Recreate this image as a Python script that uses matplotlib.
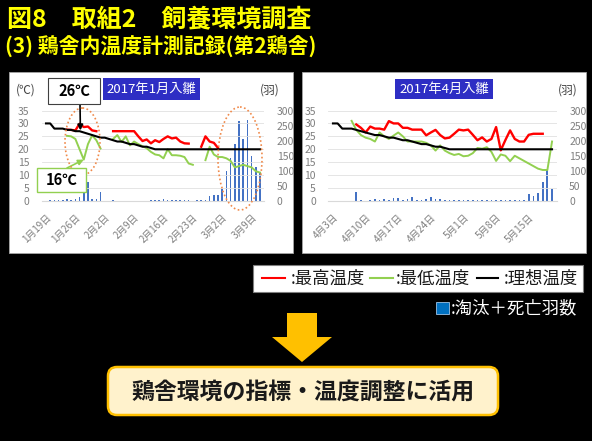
import numpy as np
import matplotlib.pyplot as plt
from matplotlib.patches import Rectangle, Ellipse, FancyBboxPatch, Polygon

plt.rcParams['font.family'] = ['Noto Sans CJK JP', 'DejaVu Sans']

nan = np.nan

# ---- 2017年1月入雛 (1/19 - 3/11) ----
jan_ticklabels = ["1月19日", "1月26日", "2月2日", "2月9日", "2月16日", "2月23日", "3月2日", "3月9日"]
jan_max = [nan, nan, nan, nan, nan, 27.6, 27.5, 27.3, 29.9, 28.6,
           28.8, 27.3, 27.0, nan, nan, nan, 27.0, 27.0, 27.0, 27.0,
           27.0, 27.0, 25.0, 23.2, 23.8, 22.3, 23.5, 22.8, 24.0, 25.0,
           24.2, 24.5, 23.0, 22.3, 22.2, nan, nan, 21.0, 25.0, 23.0,
           22.5, 20.5, nan, nan, nan, nan, nan, nan, nan, nan,
           nan, nan]
jan_min = [nan, nan, nan, nan, nan, 25.2, 25.0, 24.0, 20.0, 16.0,
           22.0, 25.4, 23.5, 20.3, nan, nan, 24.0, 25.5, 22.8, 25.0,
           21.5, 23.0, 22.0, 21.2, 20.4, 19.0, 18.0, 17.7, 16.5, 20.0,
           17.7, 17.7, 17.5, 17.0, 14.5, 14.0, nan, nan, 15.8, 21.0,
           18.0, 17.0, 17.0, 16.5, 15.5, 13.0, 13.5, 14.0, 13.5, 13.0,
           11.5, 11.0]
jan_ideal = [30, 30, 28, 28, 28, 27.5, 27.5, 27, 27, 26.5,
             26, 25.5, 25, 24.5, 24.5, 24, 23.5, 23, 23, 22.5,
             22, 22, 21.5, 21, 21, 20.5, 20, 20, 20, 20,
             20, 20, 20, 20, 20, 20, 20, 20, 20, 20,
             20, 20, 20, 20, 20, 20, 20, 20, 20, 20,
             20, 20]
jan_culled = [0, 4, 3, 4, 3, 8, 3, 5, 14, 40,
              64, 6, 6, 31, 0, 0, 2, 0, 0, 1,
              0, 0, 1, 0, 0, 2, 4, 3, 5, 3,
              3, 3, 3, 2, 4, 0, 2, 2, 3, 15,
              20, 20, 40, 98, 143, 190, 265, 207, 270, 150,
              113, 97]

# ---- 2017年4月入雛 (4/3 - 5/20) ----
apr_ticklabels = ["4月3日", "4月10日", "4月17日", "4月24日", "5月1日", "5月8日", "5月15日"]
apr_max = [nan, nan, nan, nan, nan, 29.6, 28.3, 26.5, 28.8, 28.0,
           28.0, 27.6, 30.9, 30.0, 30.0, 28.3, 28.3, 27.6, 27.6, 27.6,
           25.4, 26.5, 27.5, 25.5, 24.2, 24.5, 26.0, 27.6, 27.3, 27.6,
           25.6, 23.5, 24.6, 23.0, 24.0, 28.6, 19.6, 23.6, 27.3, 24.0,
           23.0, 23.0, 25.6, 26.0, 26.0, 26.0, nan, nan]
apr_min = [nan, nan, nan, nan, 31.0, 27.5, 25.5, 24.5, 24.0, 23.0,
           26.5, 25.0, 24.0, 25.3, 26.5, 25.0, 23.0, 23.0, 23.0, 23.0,
           22.5, 21.5, 19.5, 21.5, 19.5, 18.5, 17.8, 18.2, 17.3, 17.5,
           18.5, 20.5, 20.2, 20.8, 19.0, 15.5, 18.0, 17.5, 15.4, 17.5,
           16.5, 15.5, 14.5, 13.5, 12.5, 12.0, 12.0, 23.0]
apr_ideal = [30, 30, 28, 28, 28, 27.5, 27, 26.5, 26, 25.5,
             25.5, 25, 24.5, 24.5, 24, 23.5, 23.5, 23, 22.5, 22,
             22, 21.5, 21, 21, 20.5, 20, 20, 20, 20, 20,
             20, 20, 20, 20, 20, 20, 20, 20, 20, 20,
             20, 20, 20, 20, 20, 20, 20, 20]
apr_culled = [0, 0, 0, 0, 0, 31, 2, 0, 3, 5,
              3, 8, 4, 10, 10, 2, 8, 12, 3, 2,
              6, 12, 8, 6, 4, 3, 2, 2, 2, 3,
              2, 2, 4, 2, 2, 3, 2, 2, 2, 2,
              3, 2, 22, 18, 25, 64, 102, 39]

W, H = 592, 441
fig = plt.figure(figsize=(W / 100, H / 100), dpi=100, facecolor='black')

# background / foreground layers in pixel coordinates
bg = fig.add_axes([0, 0, 1, 1], zorder=-5)
fg = fig.add_axes([0, 0, 1, 1], zorder=10)
for a in (bg, fg):
    a.set_xlim(0, W)
    a.set_ylim(H, 0)
    a.axis('off')
bg.add_patch(Rectangle((0, 0), W, H, fc='black', ec='none'))
fg.patch.set_visible(False)

# white panels
bg.add_patch(Rectangle((9, 72), 284, 181, fc='white', ec='#a6a6a6', lw=0.6))
bg.add_patch(Rectangle((302, 72), 284, 181, fc='white', ec='#a6a6a6', lw=0.6))

# titles
fg.text(7, 19, "図8　取組2　飼養環境調査", color='#ffff00', fontsize=18,
        fontweight='bold', ha='left', va='center')
fg.text(5, 47, "(3) 鶏舎内温度計測記録(第2鶏舎)", color='#ffff00', fontsize=15,
        fontweight='bold', ha='left', va='center')


def chart(x0, x1, xlim, tmax, tmin, tideal, culled, labels):
    ax = fig.add_axes([x0 / W, 1 - 201 / H, (x1 - x0) / W, 90.5 / H])
    axb = ax.twinx()
    ax.set_zorder(axb.get_zorder() + 1)
    ax.patch.set_visible(False)
    days = np.arange(len(tideal))
    axb.bar(days, culled, width=0.38, color='#4472c4')
    ax.plot(days, tmax, color='#ff0000', lw=1.7)
    ax.plot(days, tmin, color='#92d050', lw=1.4)
    ax.plot(days, tideal, color='black', lw=1.5)
    ax.set_xlim(*xlim)
    ax.set_ylim(0, 35)
    axb.set_ylim(0, 300)
    ax.set_yticks(range(0, 36, 5))
    axb.set_yticks(range(0, 301, 50))
    ax.grid(axis='y', color='#e0e0e0', lw=0.6)
    ax.set_xticks(range(0, 7 * len(labels), 7))
    ax.set_xticklabels(labels, rotation=45, ha='right', va='top',
                       rotation_mode='anchor')
    ax.tick_params(axis='x', length=0, pad=8, labelsize=7, labelcolor='#7f7f7f')
    ax.tick_params(axis='y', length=0, pad=9, labelsize=7.5, labelcolor='#7f7f7f')
    axb.tick_params(axis='y', length=0, pad=9, labelsize=7.5, labelcolor='#7f7f7f')
    for a in (ax, axb):
        for s in a.spines.values():
            s.set_visible(False)
    ax.spines['bottom'].set_visible(True)
    ax.spines['bottom'].set_color('#d9d9d9')
    return ax


ax1 = chart(41.8, 264.2, (-1, 52), jan_max, jan_min, jan_ideal, jan_culled, jan_ticklabels)
ax2 = chart(328.3, 556.7, (-1, 48), apr_max, apr_min, apr_ideal, apr_culled, apr_ticklabels)

# units and period boxes
fg.text(26, 90, "(℃)", color='#404040', fontsize=8.5, ha='center', va='center')
fg.text(270, 90, "(羽)", color='#404040', fontsize=8.5, ha='center', va='center')
fg.text(568, 90, "(羽)", color='#404040', fontsize=8.5, ha='center', va='center')
fg.add_patch(Rectangle((103, 78), 97, 22, fc='#2e2ec4', ec='none'))
fg.text(151.5, 89, "2017年1月入雛", color='white', fontsize=9.5, ha='center', va='center')
fg.add_patch(Rectangle((395, 79), 98, 20, fc='#2e2ec4', ec='none'))
fg.text(444, 89, "2017年4月入雛", color='white', fontsize=9.5, ha='center', va='center')

# highlight ellipses
fg.add_patch(Ellipse((82.5, 141.5), 35, 67, fill=False, ec='#f08a4b', lw=1.2, ls=(0, (1, 1.5))))
fg.add_patch(Ellipse((240, 158.5), 44, 103, fill=False, ec='#f08a4b', lw=1.2, ls=(0, (1, 1.5))))

# 26℃ / 16℃ callouts
fg.add_patch(Rectangle((48, 78), 52, 26, fc='white', ec='#404040', lw=0.8))
fg.text(74, 91, "26℃", color='black', fontsize=10.5, fontweight='bold', ha='center', va='center')
ax1.annotate("", xy=(8.2, 27.3), xytext=(80, 104), textcoords=fg.transData,
             arrowprops=dict(arrowstyle='-|>', color='black', lw=1.2, mutation_scale=8,
                             shrinkA=0, shrinkB=0))
fg.add_patch(Rectangle((37, 168), 49, 24, fc='white', ec='#92d050', lw=1.0))
fg.text(61.5, 180, "16℃", color='black', fontsize=10.5, fontweight='bold', ha='center', va='center')
ax1.annotate("", xy=(9, jan_min[9]), xytext=(67, 168), textcoords=fg.transData,
             arrowprops=dict(arrowstyle='-|>', color='#92d050', lw=1.2, mutation_scale=8,
                             shrinkA=0, shrinkB=0))

# legend box
fg.add_patch(Rectangle((253, 265), 330, 27, fc='white', ec='#7f7f7f', lw=0.8))
for xa, xb, col, lab, xt in [(262, 285, '#ff0000', ":最高温度", 291),
                             (370, 393, '#92d050', ":最低温度", 396),
                             (477, 498, 'black', ":理想温度", 504)]:
    fg.plot([xa, xb], [278, 278], color=col, lw=1.5)
    fg.text(xt, 279, lab, color='#1a1a1a', fontsize=12.5, ha='left', va='center')

fg.add_patch(Rectangle((436, 302), 13, 12, fc='#0070c0', ec='#9dc3e6', lw=0.6))
fg.text(451, 308, ":淘汰＋死亡羽数", color='white', fontsize=12.5, ha='left', va='center')

# down arrow
fg.add_patch(Polygon([(287, 313), (317, 313), (317, 337), (332, 337), (302, 362),
                      (272, 337), (287, 337)], closed=True, fc='#ffc000', ec='none'))

# conclusion box
fg.add_patch(FancyBboxPatch((108, 367), 390, 48, boxstyle='round,pad=0,rounding_size=9',
                            fc='#fff2cc', ec='#ffc000', lw=1.8))
fg.text(303, 392, "鶏舎環境の指標・温度調整に活用", color='#1a1a1a', fontsize=16.5,
        fontweight='bold', ha='center', va='center')

fig.savefig('out.png', dpi=100, facecolor='black')
